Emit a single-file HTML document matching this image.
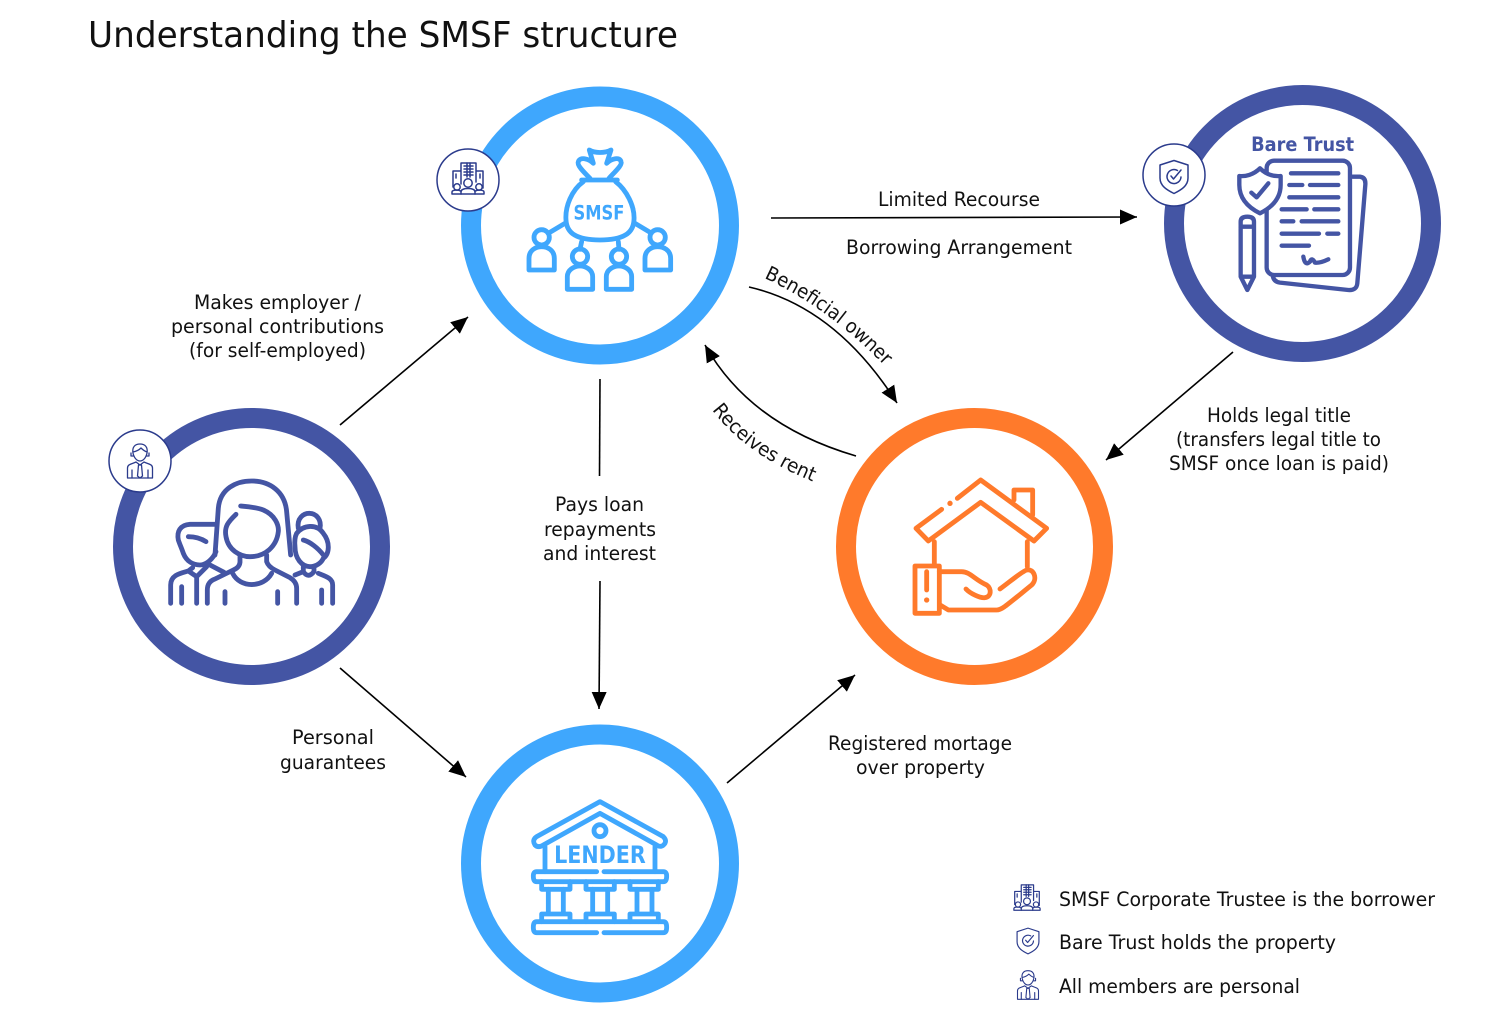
<!DOCTYPE html>
<html><head><meta charset="utf-8"><title>Understanding the SMSF structure</title>
<style>
html,body{margin:0;padding:0;background:#fff;width:1503px;height:1026px;overflow:hidden}
svg{display:block}
text{font-family:"DejaVu Sans","Liberation Sans",sans-serif;fill:#111}
.l{font-size:19.5px}
.a{fill:none;stroke:#000;stroke-width:1.6}
.i{fill:none;stroke-width:14.5;stroke-linecap:round;stroke-linejoin:round}
.s{fill:none;stroke:#2b3b8c;stroke-linecap:round;stroke-linejoin:round}
</style></head><body>
<svg width="1503" height="1026" viewBox="0 0 1503 1026" xmlns="http://www.w3.org/2000/svg">
<defs>
<marker id="ah" markerUnits="userSpaceOnUse" markerWidth="18" markerHeight="16" refX="17" refY="7.5" orient="auto"><path d="M0 0L17 7.5L0 15Z" fill="#000"/></marker>
<g id="bld" class="s" stroke-width="1.5">
<path d="M-7 5V-16H8V3M-7-8H-15V8M8-8H15V9M-12-5V-1M12-5V-1"/>
<path d="M-4-13H5M-4-10H5M-4-7H5M-4-4H5M-1-16V-2M2-16V-2"/>
<circle cx="0" cy="4" r="4.200"/><path d="M-7 15V13Q-7 9.500 0 9.500Q7 9.500 7 13V15Z"/>
<circle cx="-11" cy="8" r="3.200"/><path d="M-16 15V13Q-16 11-11 11Q-9 11-7.500 12M-16 15H-7"/>
<circle cx="11" cy="8" r="3.200"/><path d="M16 15V13Q16 11 11 11Q9 11 7.500 12M16 15H7"/>
</g>
<g id="shd" class="s" stroke-width="1.5">
<path d="M0-16.500L14-12V1C14 9 7 13 0 16.500C-7 13-14 9-14 1V-12Z"/>
<path d="M3.500-6.500A7 7 0 1 0 7 0"/><path d="M-3-1L-.5 2L7-7"/>
</g>
<g id="man" class="s" stroke-width="1.3">
<path d="M-7-8C-8-14-5-17 0-17C5-17 8-14 7-8C6-3 3 0 0 0C-3 0-6-3-7-8Z"/>
<path d="M-7-9Q-2-10 1-13Q4-10 7-9M-9-8V-5H-7M9-8V-5H7"/>
<path d="M-12.500 17V7C-12.500 3-8 3-4 1L0 4L4 1C8 3 12.500 3 12.500 7V17Z"/>
<path d="M-1.500 4H1.500L2.500 15L0 17L-2.500 15ZM-8 9V17M8 9V17"/>
</g>
</defs>
<rect width="1503" height="1026" fill="#fff"/>

<text x="88" y="47" font-size="36" textLength="590" lengthAdjust="spacingAndGlyphs">Understanding the SMSF structure</text>

<circle cx="600" cy="225.500" r="129" fill="#fff" stroke="#3fa7fd" stroke-width="20"/>
<circle cx="1302.500" cy="223.500" r="128.500" fill="#fff" stroke="#4455a4" stroke-width="20"/>
<circle cx="251.500" cy="546.500" r="128.500" fill="#fff" stroke="#4455a4" stroke-width="20"/>
<circle cx="974.500" cy="546.500" r="128.500" fill="#fff" stroke="#ff7a2b" stroke-width="20"/>
<circle cx="600" cy="863.500" r="129" fill="#fff" stroke="#3fa7fd" stroke-width="20"/>

<circle cx="468" cy="180" r="31" fill="#fff" stroke="#2b3b8c" stroke-width="1.5"/>
<use href="#bld" x="468" y="179"/>
<circle cx="1174" cy="175" r="31" fill="#fff" stroke="#2b3b8c" stroke-width="1.500"/>
<use href="#shd" x="1174" y="177"/>
<circle cx="140" cy="461" r="31" fill="#fff" stroke="#2b3b8c" stroke-width="1.500"/>
<use href="#man" x="140" y="461"/>

<!-- SMSF icon -->
<g transform="translate(430 130) scale(.3333)">
<g class="i" stroke="#3fa7fd">
<path d="M480 145C460 125 440 105 445 95C450 80 475 85 490 100L478 60C495 70 525 70 543 60L530 100C545 85 570 80 573 95C578 105 555 125 537 145"/>
<path d="M455 150H562M460 155C425 180 405 230 408 270C410 310 440 330 510 330C580 330 610 310 612 270C615 230 590 180 557 155"/>
<path d="M405 280L358 308M615 280L662 308M455 335L450 358M565 335L567 358"/>
<circle cx="335" cy="322" r="23"/><circle cx="450" cy="380" r="23"/><circle cx="567" cy="380" r="23"/><circle cx="683" cy="322" r="23"/>
<path d="M297 420V385C297 360 318 350 335 350C352 350 373 360 373 385V420Z"/>
<path d="M412 478V440C412 420 432 408 450 408C468 408 488 420 488 440V478Z"/>
<path d="M529 478V440C529 420 549 408 567 408C585 408 605 420 605 440V478Z"/>
<path d="M645 420V385C645 360 666 350 683 350C700 350 722 360 722 385V420Z"/>
</g>
<text x="507" y="268" font-size="58" font-weight="bold" text-anchor="middle" textLength="153" lengthAdjust="spacingAndGlyphs" style="fill:#3fa7fd">SMSF</text>
</g>

<!-- Bare Trust icon -->
<g transform="translate(1130 120) scale(.3333)">
<text x="518" y="93" font-size="58" font-weight="bold" text-anchor="middle" textLength="309" lengthAdjust="spacingAndGlyphs" style="fill:#4455a4">Bare Trust</text>
<g class="i" stroke="#4455a4" style="stroke-width:13">
<path d="M668 170H690Q708 172 706 195L682 490Q680 512 655 510L450 488Q430 485 428 465"/>
<rect x="410" y="122" width="250" height="343" rx="22" fill="#fff"/>
<path d="M483 160H625M478 195H517M540 195H625M478 232H625M455 268H530M553 268H625M455 304H490M515 304H625M455 341H567M592 341H625M455 377H537"/>
<path d="M520 410Q525 440 540 425Q545 410 555 428Q570 430 595 418"/>
<path d="M390 145C370 165 345 170 328 168V195C328 240 360 265 390 280C420 265 452 240 452 195V168C430 170 410 165 390 145Z" fill="#fff"/>
<path d="M364 218L380 232L415 190"/>
<path d="M332 320V470L352 510L372 470V320ZM332 320V305Q332 290 352 290Q372 290 372 305V320M332 470H372"/>
</g>
</g>

<!-- Members icon -->
<g transform="translate(100 425) scale(.3333)" class="i" stroke="#4455a4">
<path d="M345 390L355 250C360 190 410 168 455 168C510 168 555 200 560 260L572 390"/>
<path d="M408 268C385 290 372 305 378 335C385 375 420 395 450 395C495 395 530 365 535 320C537 300 525 270 490 255C470 247 445 245 422 243"/>
<path d="M420 395V412Q418 428 400 435L345 462Q322 470 322 495V535M500 390V410Q505 425 525 435L570 458Q590 470 590 490V535"/>
<path d="M398 445C420 490 490 490 515 445M375 500V535M533 500V535"/>
<path d="M345 298H270C240 300 230 320 235 345C240 360 245 370 250 385C260 410 280 420 300 420C320 420 340 400 348 380M265 335Q295 335 318 350"/>
<path d="M212 535V480C212 450 240 445 265 438L278 428M265 438L290 455L320 425M290 455V535M245 485V535M330 420L372 442"/>
<path d="M595 310C590 280 610 265 628 265C650 265 665 285 660 310"/>
<path d="M585 365C583 345 585 335 590 325C610 300 650 295 670 325C690 350 690 385 670 400C665 412 650 425 630 425C605 425 585 400 585 365M610 345C630 350 655 370 670 390"/>
<path d="M698 535V480C698 460 680 455 655 445M610 425V440Q625 462 642 440V425M665 495V535M610 440L585 450"/>
</g>

<!-- House icon -->
<g transform="translate(890 465) scale(.3333)" class="i" stroke="#ff7a2b">
<path d="M155 133L78 190L115 228L272 112L432 228L470 190L272 45L202 100"/>
<path d="M372 105V75H428V150M133 230V300M412 230V305"/>
<path d="M75 303H148V445H75ZM110 320V375"/>
<path d="M148 320H215C240 320 255 345 290 360C305 370 305 395 285 398C270 400 240 385 228 372"/>
<path d="M150 420L175 435H320C335 435 345 425 425 360C445 340 430 310 410 315C395 320 360 350 330 372"/>
<circle cx="180" cy="115" r="8" fill="#ff7a2b" stroke="none"/>
<circle cx="110" cy="405" r="8" fill="#ff7a2b" stroke="none"/>
</g>

<!-- Lender icon -->
<g transform="translate(520 790) scale(.3333)">
<g class="i" stroke="#3fa7fd">
<path d="M240 35L50 140Q35 150 45 165Q55 175 70 165L240 70L410 165Q425 175 435 160Q440 150 430 140Z"/>
<circle cx="240" cy="122" r="18"/>
<path d="M75 170V245M405 170V245"/>
<path d="M230 245H50Q40 245 40 258Q40 275 50 275H430Q440 275 440 258Q440 245 430 245H252"/>
<path d="M65 275V298H150V275M198 275V298H283V275M330 275V298H415V275"/>
<path d="M85 298V370M130 298V370M218 298V370M263 298V370M351 298V370M396 298V370"/>
<path d="M65 395V372H150V395M198 395V372H283V395M330 395V372H415V395"/>
<path d="M230 428H50Q40 428 40 412Q40 395 50 395H430Q440 395 440 412Q440 428 430 428H252"/>
</g>
<text x="240" y="219" font-size="72" font-weight="bold" text-anchor="middle" textLength="275" lengthAdjust="spacingAndGlyphs" style="fill:#3fa7fd">LENDER</text>
</g>

<!-- Connectors -->
<path class="a" marker-end="url(#ah)" d="M340 425L468 317"/>
<path class="a" marker-end="url(#ah)" d="M340 668L466 777"/>
<path class="a" d="M600 379L599.500 476"/>
<path class="a" marker-end="url(#ah)" d="M600 581L599 709"/>
<path class="a" marker-end="url(#ah)" d="M771 218L1137 217"/>
<path class="a" marker-end="url(#ah)" d="M1233 352L1106 460"/>
<path class="a" marker-end="url(#ah)" d="M727 783L855 675"/>
<path class="a" marker-end="url(#ah)" d="M749 287Q836 307 897 403"/>
<path class="a" marker-end="url(#ah)" d="M856 456Q750 425 705 345"/>

<path id="p1" d="M764 278Q835 310 900 382" fill="none"/>
<path id="p2" d="M712 410Q750 460 830 488" fill="none"/>
<text class="l"><textPath href="#p1" textLength="150" lengthAdjust="spacingAndGlyphs">Beneficial owner</textPath></text>
<text class="l"><textPath href="#p2" textLength="125" lengthAdjust="spacingAndGlyphs">Receives rent</textPath></text>

<text class="l" x="878" y="206" textLength="162" lengthAdjust="spacingAndGlyphs">Limited Recourse</text>
<text class="l" x="846" y="254" textLength="226" lengthAdjust="spacingAndGlyphs">Borrowing Arrangement</text>
<text class="l" x="194" y="309" textLength="167" lengthAdjust="spacingAndGlyphs">Makes employer /</text>
<text class="l" x="171" y="333" textLength="213" lengthAdjust="spacingAndGlyphs">personal contributions</text>
<text class="l" x="189" y="357" textLength="177" lengthAdjust="spacingAndGlyphs">(for self-employed)</text>
<text class="l" x="555" y="511" textLength="89" lengthAdjust="spacingAndGlyphs">Pays loan</text>
<text class="l" x="544" y="536" textLength="112" lengthAdjust="spacingAndGlyphs">repayments</text>
<text class="l" x="543" y="560" textLength="113" lengthAdjust="spacingAndGlyphs">and interest</text>
<text class="l" x="292" y="744" textLength="82" lengthAdjust="spacingAndGlyphs">Personal</text>
<text class="l" x="280" y="769" textLength="106" lengthAdjust="spacingAndGlyphs">guarantees</text>
<text class="l" x="828" y="750" textLength="184" lengthAdjust="spacingAndGlyphs">Registered mortage</text>
<text class="l" x="856" y="774" textLength="129" lengthAdjust="spacingAndGlyphs">over property</text>
<text class="l" x="1207" y="422" textLength="144" lengthAdjust="spacingAndGlyphs">Holds legal title</text>
<text class="l" x="1176" y="446" textLength="205" lengthAdjust="spacingAndGlyphs">(transfers legal title to</text>
<text class="l" x="1169" y="470" textLength="220" lengthAdjust="spacingAndGlyphs">SMSF once loan is paid)</text>

<!-- Legend -->
<use href="#bld" transform="translate(1027 898) scale(.82)"/>
<use href="#shd" transform="translate(1028 941) scale(.78)"/>
<use href="#man" transform="translate(1028 985) scale(.84)"/>
<text class="l" x="1059" y="906" textLength="376" lengthAdjust="spacingAndGlyphs">SMSF Corporate Trustee is the borrower</text>
<text class="l" x="1059" y="949" textLength="277" lengthAdjust="spacingAndGlyphs">Bare Trust holds the property</text>
<text class="l" x="1059" y="993" textLength="241" lengthAdjust="spacingAndGlyphs">All members are personal</text>
</svg>
</body></html>
